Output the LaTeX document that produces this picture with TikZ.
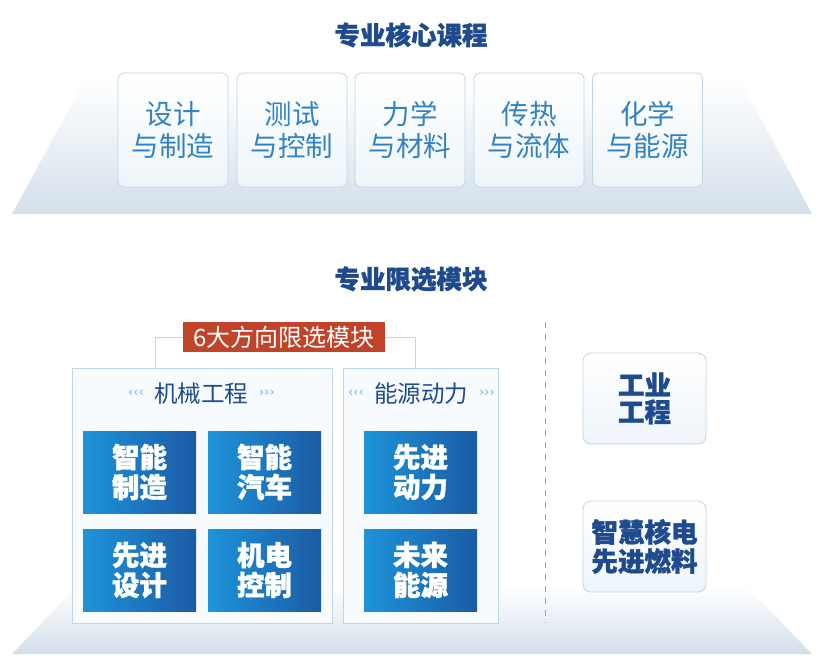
\documentclass[tikz,border=0pt]{standalone}
\usepackage{fontspec}
\setmainfont{Noto Sans CJK SC}
\newfontfamily\heavy{Noto Sans CJK SC}[BoldFeatures={FakeBold=1.4}]
\newfontfamily\dejavu{DejaVu Sans}
\definecolor{titleblue}{HTML}{1F4B8E}
\definecolor{softblue}{HTML}{3283C3}
\definecolor{boxline}{HTML}{BED6E6}
\definecolor{boxfill}{HTML}{EEF5FA}
\definecolor{plat}{HTML}{D3DFEB}
\definecolor{tileL}{HTML}{1E94D9}
\definecolor{tileR}{HTML}{1B5BA5}
\definecolor{brick}{HTML}{C1432A}
\definecolor{chev}{HTML}{7FB0D6}
\definecolor{dashc}{HTML}{8FA6C0}
\begin{document}
\begin{tikzpicture}[x=1pt,y=-1pt,
  title/.style={font=\heavy\bfseries\fontsize{25.5}{28}\selectfont, text=titleblue},
  coursebox/.style={draw=boxline, line width=0.8pt, rounded corners=6pt,
     top color=white, bottom color=boxfill, minimum width=110pt, minimum height=114pt,
     align=center, text=softblue, font=\fontsize{27.5}{32}\selectfont, inner sep=0pt},
  bigbox/.style={draw=boxline, line width=0.8pt, fill=white!60!boxfill, minimum height=255pt, inner sep=0pt},
  tile/.style={left color=tileL, right color=tileR, minimum width=113pt, minimum height=82pt,
     align=center, text=white, font=\heavy\bfseries\fontsize{27.5}{30}\selectfont, inner sep=0pt},
  sidebox/.style={draw=boxline, line width=0.8pt, rounded corners=8pt,
     top color=white, bottom color=boxfill, minimum width=123pt, minimum height=91pt,
     align=center, text=titleblue, inner sep=0pt},
  header/.style={font=\heavy\fontsize{23.5}{26}\selectfont, text=titleblue},
  chevron/.style={font=\dejavu\fontsize{13}{13}\selectfont, text=chev, inner sep=0pt},
  link/.style={draw=boxline, line width=1pt}
]
\useasboundingbox (0,0) rectangle (826,670);
\fill[white] (0,0) rectangle (826,670);
% platforms
\shade[top color=white, middle color=white!75!plat, bottom color=plat] (85,80) -- (740,80) -- (812,214) -- (12,214) -- cycle;
\shade[top color=white, middle color=white!75!plat, bottom color=plat] (77,586) -- (746,586) -- (812,654) -- (12,654) -- cycle;

% titles
\node[title] (t1) at (411,35) {专业核心课程};
\node[title] (t2) at (411,279) {专业限选模块};

% core courses
\node[coursebox] (c1) at (173,130) {设计\\与制造};
\node[coursebox] (c2) at (292,130) {测试\\与控制};
\node[coursebox] (c3) at (410,130) {力学\\与材料};
\node[coursebox] (c4) at (529,130) {传热\\与流体};
\node[coursebox] (c5) at (647.5,130) {化学\\与能源};

% module boxes
\node[bigbox, minimum width=260pt] (m1) at (202,495.5) {};
\node[bigbox, minimum width=155pt] (m2) at (420.5,495.5) {};

\node[header] (h1) at (201,394) {机械工程};
\node[chevron] (h1l) at (136,393) {‹‹‹};
\node[chevron] (h1r) at (267,393) {›››};
\node[header] (h2) at (421,394) {能源动力};
\node[chevron] (h2l) at (356,393) {‹‹‹};
\node[chevron] (h2r) at (487,393) {›››};

% red label and bracket
\node[fill=brick, text=white, minimum width=202pt, minimum height=30pt, inner sep=0pt,
      font=\fontsize{24}{26}\selectfont] (lbl) at (284,337) {6大方向限选模块};
\coordinate (b1) at (155,368);
\coordinate (b2) at (415,368);
\draw[link] (lbl.west) -| (b1);
\draw[link] (lbl.east) -| (b2);

% tiles
\node[tile] (s1) at (139.5,472) {智能\\制造};
\node[tile] (s2) at (264.5,472) {智能\\汽车};
\node[tile] (s3) at (139.5,570) {先进\\设计};
\node[tile] (s4) at (264.5,570) {机电\\控制};
\node[tile] (s5) at (420.5,472) {先进\\动力};
\node[tile] (s6) at (420.5,570) {未来\\能源};

% divider
\coordinate (d1) at (545,322);
\coordinate (d2) at (545,623);
\draw[dashc, line width=1pt, dash pattern=on 6pt off 6pt] (d1) -- (d2);

% side boxes
\node[sidebox, font=\heavy\bfseries\fontsize{26.5}{27}\selectfont] (g1) at (644.5,398.5) {工业\\工程};
\node[sidebox, font=\heavy\bfseries\fontsize{26.5}{29}\selectfont] (g2) at (644.5,546.5) {智慧核电\\先进燃料};
\end{tikzpicture}
\end{document}
